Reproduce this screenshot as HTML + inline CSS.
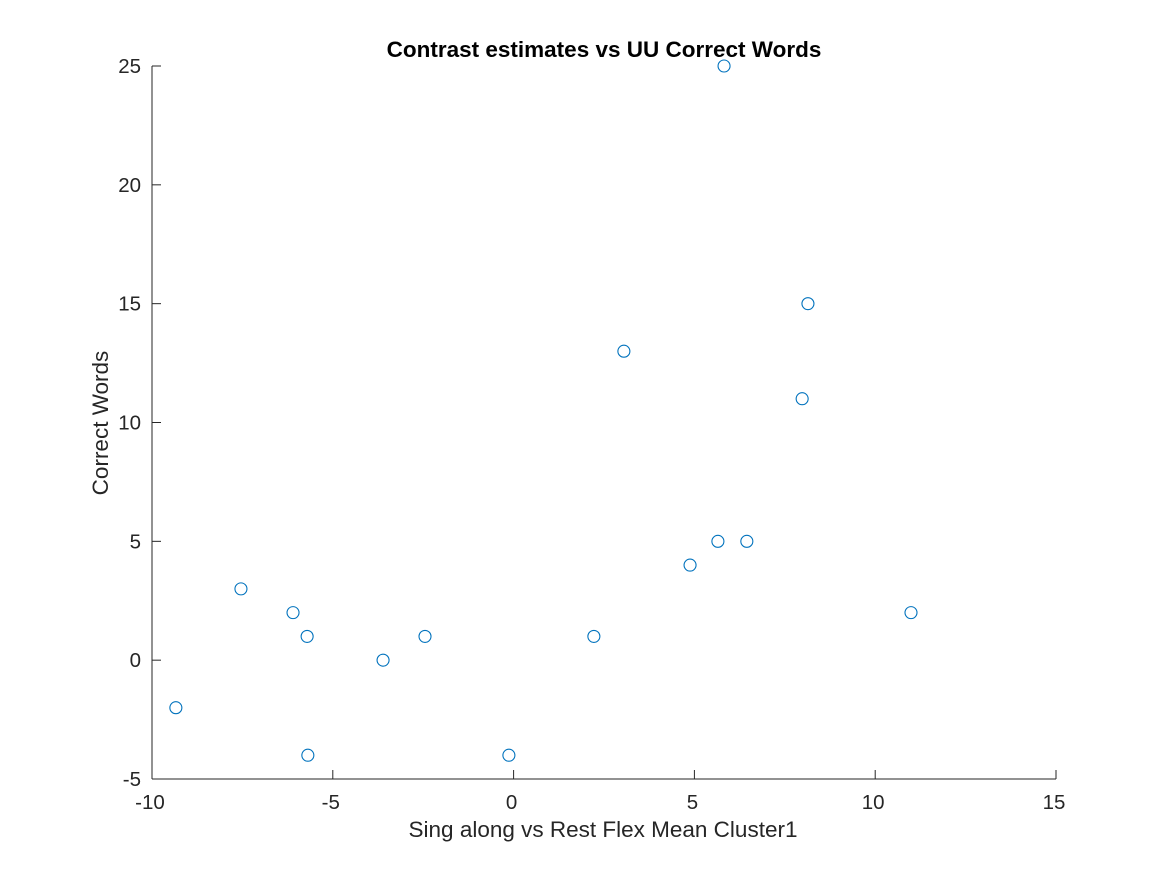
<!DOCTYPE html>
<html><head><meta charset="utf-8"><style>
html,body{margin:0;padding:0;background:#fff;}
svg text{font-family:"Liberation Sans",sans-serif;fill:#262626;}
</style></head><body>
<svg width="1167" height="875" viewBox="0 0 1167 875">
<rect width="1167" height="875" fill="#fff"/>
<text x="604" y="57" text-anchor="middle" font-size="22.5" font-weight="bold" fill="#000" style="fill:#000">Contrast estimates vs UU Correct Words</text>
<g id="axes"></g>
<g id="pts"></g>
<text x="603" y="837" text-anchor="middle" font-size="22.5">Sing along vs Rest Flex Mean Cluster1</text>
<text transform="translate(108,423) rotate(-90)" text-anchor="middle" font-size="22.5">Correct Words</text>
</svg>
<script>
const xVals=[-9.34,-7.54,-6.10,-5.71,-5.69,-3.61,-2.45,-0.13,2.22,3.05,4.88,5.65,5.82,6.45,7.98,8.14,10.99];
const yVals=[-2,3,2,1,-4,0,1,-4,1,13,4,5,25,5,11,15,2];
const xTicks=[-10,-5,0,5,10,15];
const yTicks=[-5,0,5,10,15,20,25];
const NS="http://www.w3.org/2000/svg";
const X0=152,X1=1056,Y0=779,Y1=66;
function sx(v){return X0+(v+10)/25*(X1-X0);}
function sy(v){return Y0-(v+5)/30*(Y0-Y1);}
function mk(t,a,p){const e=document.createElementNS(NS,t);for(const k in a)e.setAttribute(k,a[k]);p.appendChild(e);return e;}
const ax=document.getElementById('axes');
let l=mk('line',{x1:X0,y1:Y0,x2:X1,y2:Y0,stroke:'#262626','stroke-width':1},ax);


l=mk('line',{x1:X0,y1:Y1,x2:X0,y2:Y0,stroke:'#262626','stroke-width':1},ax);


xTicks.forEach(v=>{const x=sx(v);
const t=mk('line',{x1:x,y1:Y0,x2:x,y2:Y0-9,stroke:'#262626'},ax);


const tx=mk('text',{x:x-2,y:809,'text-anchor':'middle','font-size':20.5},ax);tx.textContent=v;

});
yTicks.forEach(v=>{const y=sy(v);
const t=mk('line',{x1:X0,y1:y,x2:X0+9,y2:y,stroke:'#262626'},ax);


const tx=mk('text',{x:141,y:y+7,'text-anchor':'end','font-size':20.5},ax);tx.textContent=v;

});
const pg=document.getElementById('pts');
xVals.forEach((v,i)=>{const c=mk('circle',{cx:sx(v),cy:sy(yVals[i]),r:6,fill:'none',stroke:'#0072BD','stroke-width':1.1},pg);

});
</script>
</body></html>
